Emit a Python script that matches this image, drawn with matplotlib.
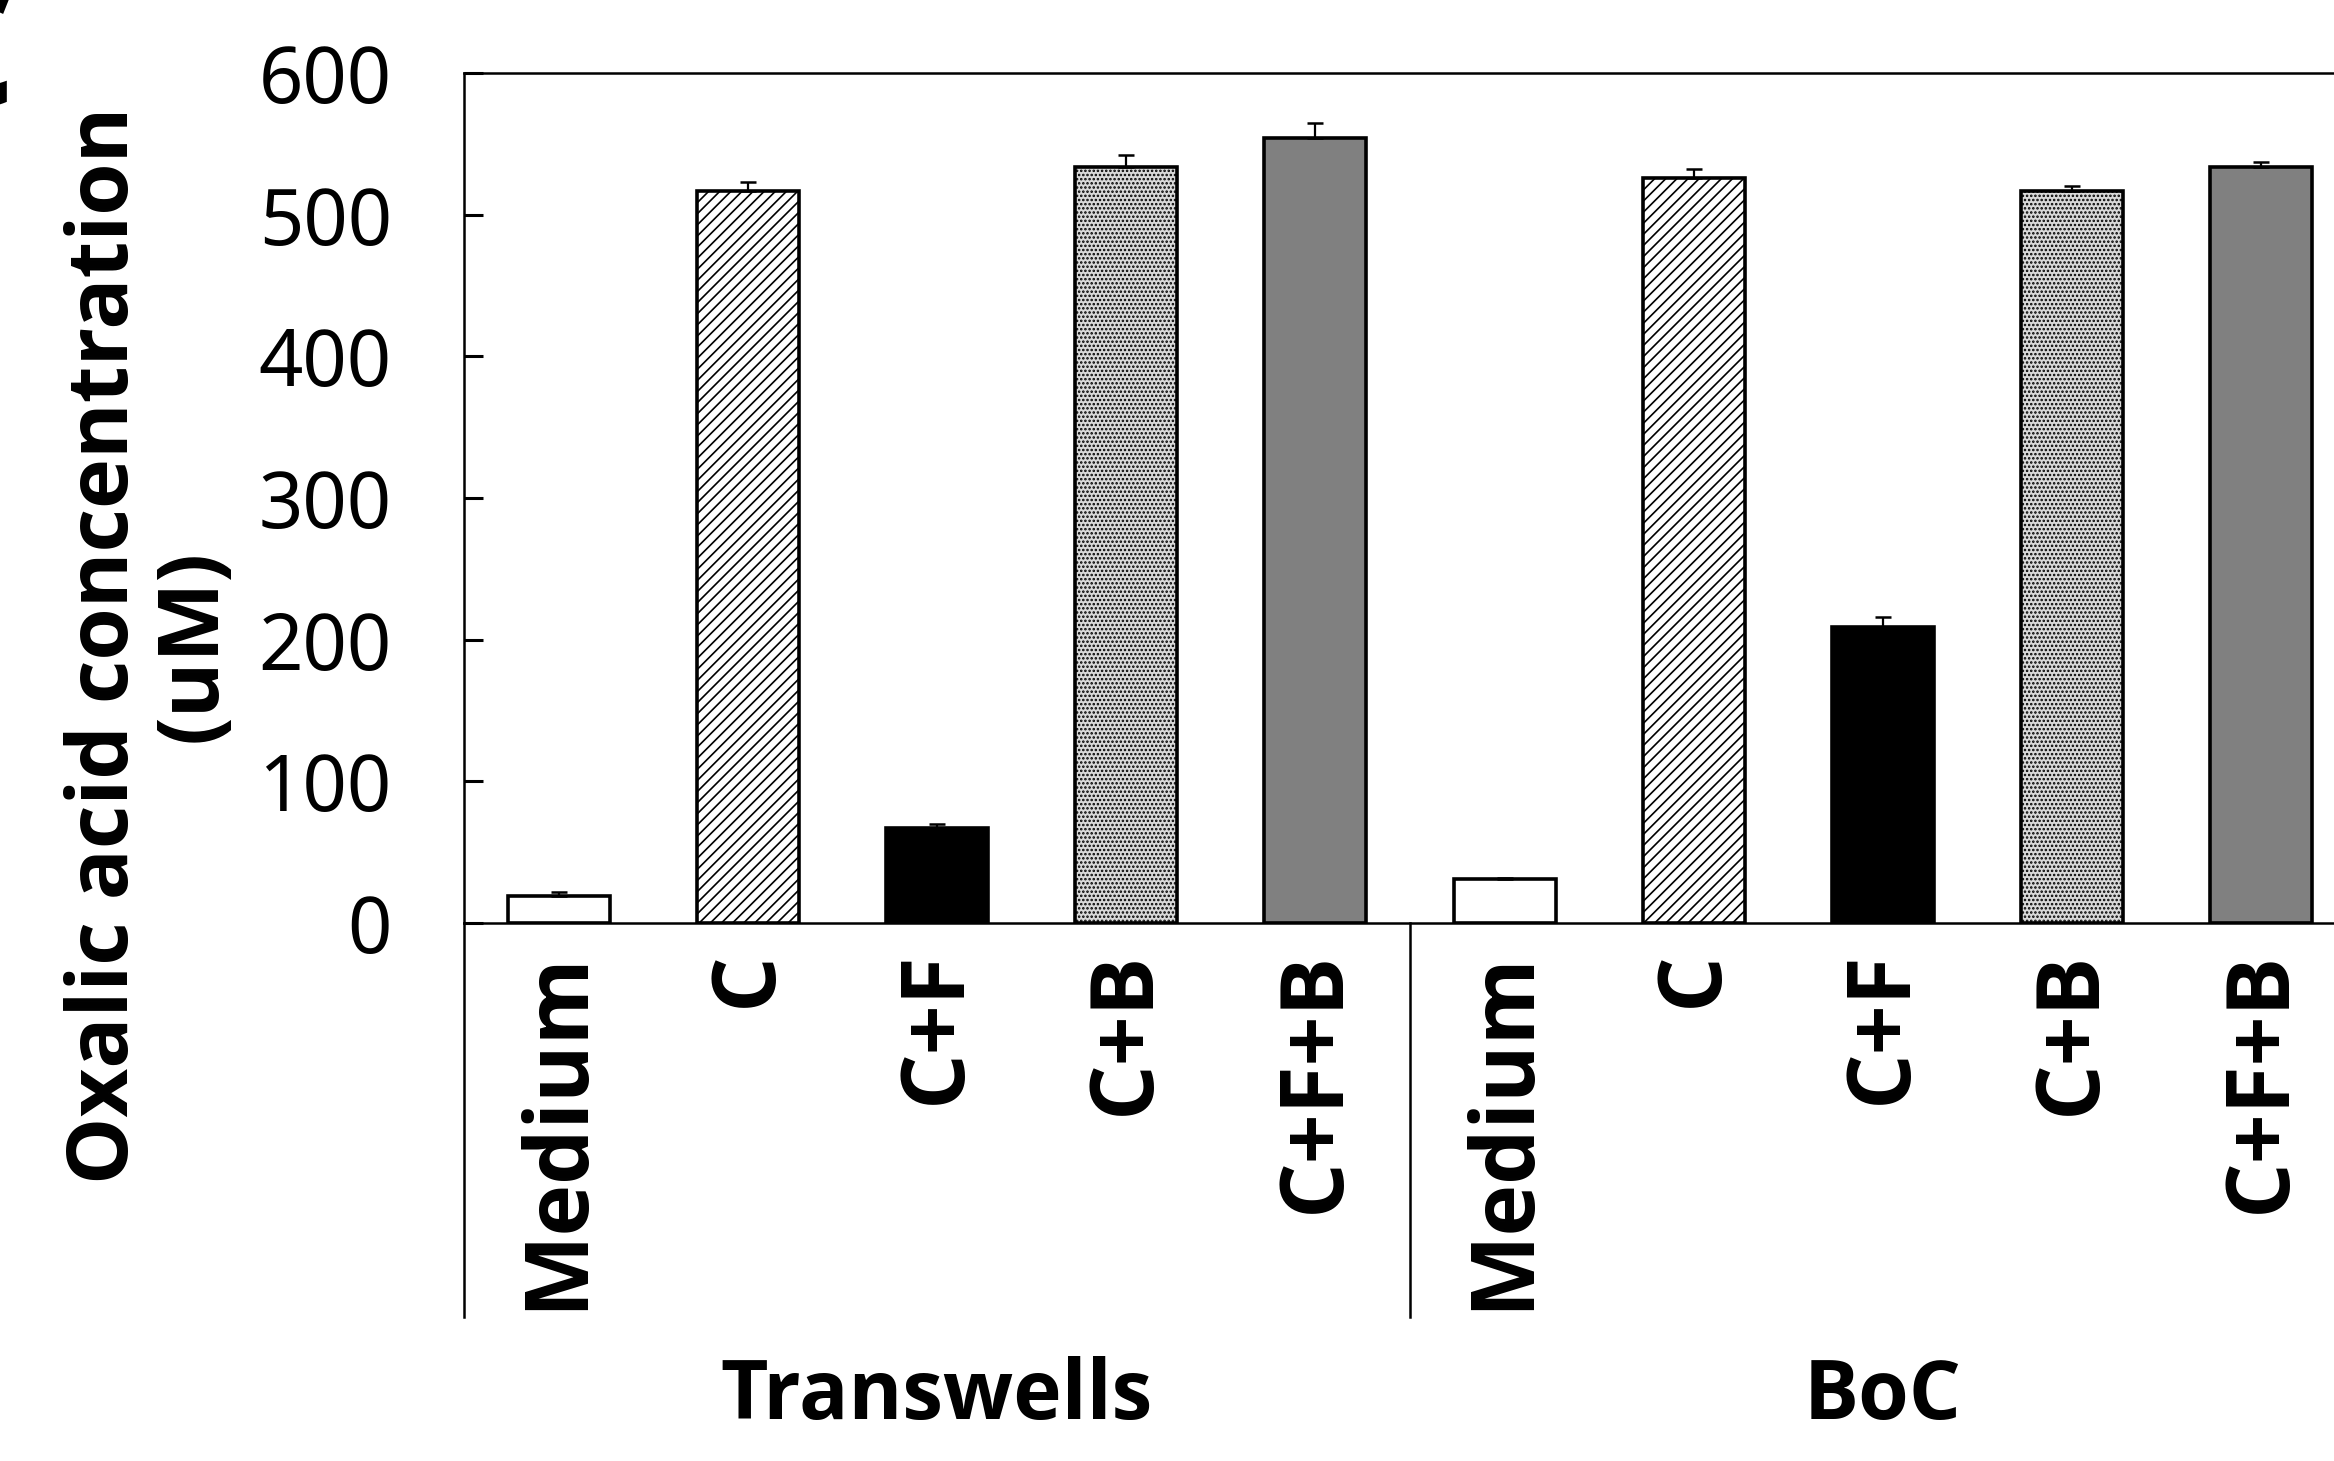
import numpy as np
import matplotlib
matplotlib.use('Agg')
import matplotlib.pyplot as plt
from matplotlib import font_manager

# данные по группам
groups = ['Transwells', 'BoC']
conditions = ['Medium', 'C', 'C+F', 'C+B', 'C+F+B']
transwells_mean = [19, 517, 67, 534, 554]
transwells_err = [3, 6, 3, 8, 11]
boc_mean = [31, 526, 209, 517, 534]
boc_err = [1, 6, 7, 3, 3]
y_ticks = [0, 100, 200, 300, 400, 500, 600]


# ищем шрифт, у которого есть настоящий жирный файл
def pick_bold_family():
    for fam in ['Open Sans', 'Noto Sans', 'Lato', 'Roboto', 'Inter']:
        try:
            path = font_manager.findfont(font_manager.FontProperties(family=fam, weight='bold'),
                                         fallback_to_default=False)
        except Exception:
            continue
        if 'bold' in path.lower() or 'wght' in path.lower():
            return fam
    return 'DejaVu Sans'


bold_fam = pick_bold_family()
plt.rcParams['font.family'] = ['Noto Sans', 'DejaVu Sans']
plt.rcParams['hatch.linewidth'] = 1.2

faces = ['white', 'white', 'black', '#d9d9d9', '#808080']
hatches = [None, '///', None, '....', None]

fig = plt.figure(figsize=(23.34, 14.61), dpi=100)
ax = fig.add_axes([464 / 2334, 1 - 923 / 1461, 1892 / 2334, 850 / 1461])

means = transwells_mean + boc_mean
errs = transwells_err + boc_err
x = np.arange(len(means))
for i in range(len(means)):
    k = i % len(conditions)
    ax.bar(x[i], means[i], width=0.54, color=faces[k], edgecolor='black',
           linewidth=2.6, hatch=hatches[k], zorder=2)
ax.errorbar(x, means, yerr=[np.zeros(len(errs)), errs], fmt='none',
            ecolor='black', elinewidth=1.6, capsize=6, capthick=1.8, zorder=3)

ax.set_xlim(-0.5, len(means) - 0.5)
ax.set_ylim(0, 600)
ax.set_yticks(y_ticks)
ax.tick_params(axis='y', direction='in', length=14, width=2.2, labelsize=56, pad=52)
ax.set_xticks(x)
ax.set_xticklabels(conditions * len(groups), rotation=90, fontsize=63,
                   fontweight='bold', family=bold_fam)
ax.tick_params(axis='x', length=0, pad=20)

for s in ['top', 'left', 'bottom']:
    ax.spines[s].set_linewidth(1.8)
ax.spines['right'].set_visible(False)

# линии под осью: левая и разделитель между группами
low = -278
ax.plot([-0.5, -0.5], [0, low], color='black', lw=1.8, clip_on=False)
ax.plot([4.5, 4.5], [0, low], color='black', lw=1.8, clip_on=False)

for g, name in enumerate(groups):
    ax.text(2 + 5 * g, -335, name, ha='center', va='center', fontsize=59,
            fontweight='bold', family=bold_fam)

fig.text(150 / 2334, 1 - 645 / 1461, 'Oxalic acid concentration\n(uM)',
         rotation=90, ha='center', va='center', fontsize=61, fontweight='bold',
         family=bold_fam, multialignment='center', linespacing=1.05)

# обрезанная буква панели
fig.text(16 / 2334, 1 - 62 / 1461, 'C', ha='right', va='center', fontsize=120,
         fontweight='bold', family=bold_fam)

fig.savefig('out.png', dpi=100)
